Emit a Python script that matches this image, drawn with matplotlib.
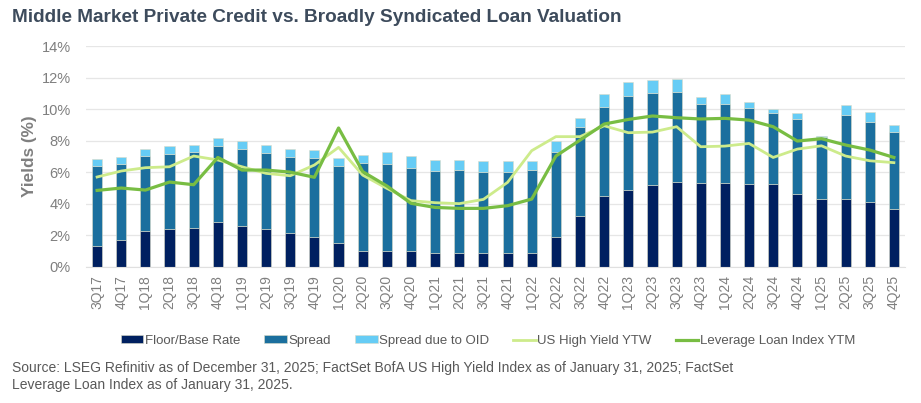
import matplotlib
matplotlib.use("Agg")
import matplotlib.pyplot as plt
import numpy as np

plt.rcParams['font.family'] = ['Liberation Sans', 'DejaVu Sans']

quarters = ["3Q17","4Q17","1Q18","2Q18","3Q18","4Q18","1Q19","2Q19","3Q19","4Q19",
            "1Q20","2Q20","3Q20","4Q20","1Q21","2Q21","3Q21","4Q21","1Q22","2Q22",
            "3Q22","4Q22","1Q23","2Q23","3Q23","4Q23","1Q24","2Q24","3Q24","4Q24",
            "1Q25","2Q25","3Q25","4Q25"]

# cumulative tops
base_top = [1.31,1.67,2.28,2.37,2.43,2.81,2.56,2.37,2.11,1.90,
            1.48,0.97,0.99,0.97,0.89,0.89,0.89,0.89,0.89,1.90,
            3.23,4.48,4.88,5.16,5.37,5.33,5.29,5.26,5.22,4.63,
            4.29,4.29,4.10,3.66]
spread_top = [6.38,6.53,7.00,7.17,7.25,7.67,7.44,7.23,6.98,6.87,
              6.41,6.55,6.53,6.28,6.09,6.13,6.03,6.03,6.15,7.29,
              8.84,10.15,10.85,10.99,11.06,10.30,10.30,10.04,9.77,9.34,
              8.20,9.60,9.18,8.54]
oid_top = [6.85,6.96,7.46,7.63,7.70,8.16,7.95,7.70,7.46,7.40,
           6.91,7.08,7.25,7.00,6.77,6.77,6.72,6.70,6.70,7.95,
           9.45,10.93,11.73,11.84,11.88,10.78,10.93,10.42,10.00,9.75,
           8.27,10.23,9.79,9.01]
hy_ytw = [5.69,6.07,6.28,6.34,7.02,6.77,6.34,5.92,5.77,6.45,
          7.57,5.81,4.97,4.19,4.06,4.00,4.27,5.35,7.36,8.25,
          8.25,8.94,8.50,8.54,8.88,7.61,7.65,7.82,6.93,7.46,
          7.67,7.02,6.72,6.60]
ll_ytm = [4.84,4.99,4.86,5.37,5.20,6.93,6.13,6.13,6.00,5.67,
          8.80,6.03,5.12,4.02,3.76,3.70,3.70,3.87,4.29,7.02,
          8.03,9.05,9.34,9.56,9.45,9.37,9.41,9.30,8.88,7.97,
          8.12,7.72,7.40,6.93]

base = np.array(base_top)
spread = np.array(spread_top) - base
oid = np.array(oid_top) - np.array(spread_top)

c_base = '#002060'
c_spread = '#1b6f9e'
c_oid = '#66ccf5'
c_hy = '#cdeb8b'
c_ll = '#78bd43'
gray = '#7f7f7f'

fig = plt.figure(figsize=(9.21, 4.03), dpi=100)
ax = fig.add_axes([86/921, 1-266.7/403, (905-86)/921, (266.7-46)/403])

x = np.arange(len(quarters))
w = 0.42
ec = '#dcdcc8'
h1 = ax.bar(x, base, w, color=c_base, edgecolor=ec, linewidth=0.4, label='Floor/Base Rate', zorder=2)
h2 = ax.bar(x, spread, w, bottom=base, color=c_spread, edgecolor=ec, linewidth=0.4, label='Spread', zorder=2)
h3 = ax.bar(x, oid, w, bottom=np.array(spread_top), color=c_oid, edgecolor=ec, linewidth=0.4, label='Spread due to OID', zorder=2)
h4, = ax.plot(x, hy_ytw, color=c_hy, linewidth=2.0, label='US High Yield YTW', zorder=3)
h5, = ax.plot(x, ll_ytm, color=c_ll, linewidth=2.3, label='Leverage Loan Index YTM', zorder=4)

ax.set_xlim(-0.46, len(quarters) - 1 + 0.46)
ax.set_ylim(0, 14)
ax.set_yticks(np.arange(0, 15, 2))
ax.set_yticklabels([f"{v}%" for v in range(0, 15, 2)], fontsize=10.5, color=gray)
ax.set_xticks(x)
ax.set_xticklabels(quarters, rotation=90, fontsize=10, color=gray)
ax.tick_params(axis='x', length=0, pad=6)
ax.tick_params(axis='y', length=0, pad=11)
ax.grid(axis='y', color='#e6e6e6', linewidth=0.9, zorder=0)
ax.set_axisbelow(True)
for s in ['top', 'right', 'left']:
    ax.spines[s].set_visible(False)
ax.spines['bottom'].set_color('#e0e0e0')

ax.set_ylabel('Yields (%)', fontsize=12.3, fontweight='bold', color=gray, labelpad=3)

fig.text(12/921, 1-18/403, 'Middle Market Private Credit vs. Broadly Syndicated Loan Valuation',
         fontsize=13.7, fontweight='bold', color='#3d4b5c', va='center', ha='left')

handles = [h1, h2, h3, h4, h5]
labels = [h.get_label() for h in handles]
fig.legend(handles, labels, loc='center', bbox_to_anchor=(488/921, 1-341/403), ncol=5,
           frameon=False, fontsize=9.5, labelcolor='#595959', handlelength=1.7,
           handletextpad=0.1, columnspacing=1.85, handleheight=0.55)

fig.text(12/921, 1-368/403, 'Source: LSEG Refinitiv as of December 31, 2025; FactSet BofA US High Yield Index as of January 31, 2025; FactSet',
         fontsize=10, color='#595959', va='center', ha='left')
fig.text(12/921, 1-385/403, 'Leverage Loan Index as of January 31, 2025.',
         fontsize=10, color='#595959', va='center', ha='left')

fig.savefig('out.png', dpi=100)
